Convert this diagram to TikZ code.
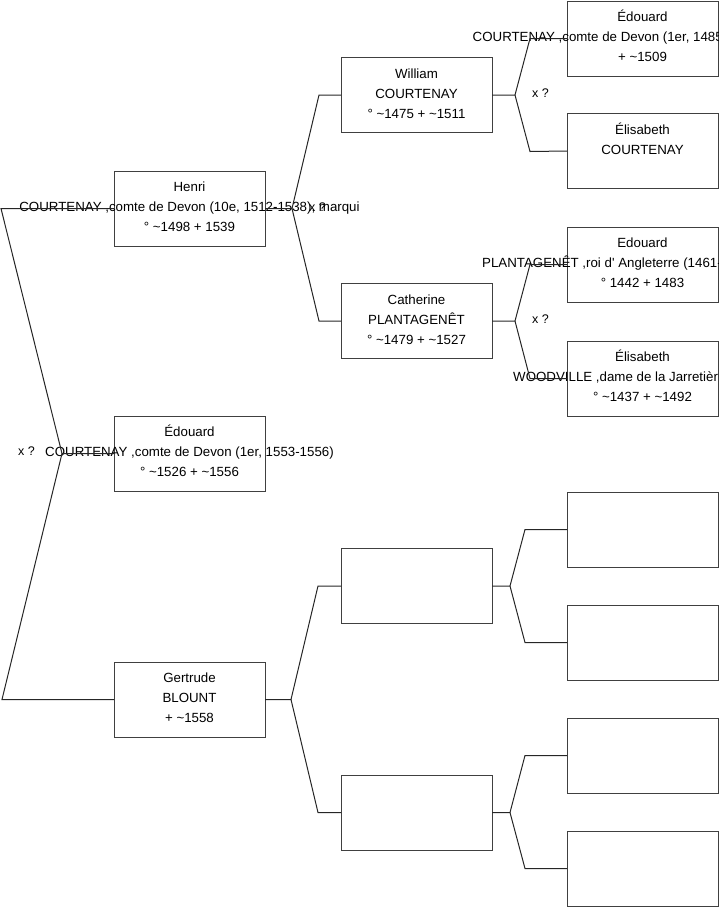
\documentclass[tikz,border=0pt]{standalone}
\usepackage{fontspec}
\setmainfont{Liberation Sans}
\usetikzlibrary{calc}
\begin{document}
\begin{tikzpicture}[x=1pt,y=-1pt,
  box/.style={draw=black!75, line width=1pt, rectangle, minimum width=151pt, minimum height=75pt, inner sep=0pt, outer sep=0pt},
  ln/.style={anchor=base, inner sep=0pt, font=\fontsize{13.3}{20}\selectfont},
  lnw/.style={anchor=base west, inner sep=0pt, font=\fontsize{13.3}{20}\selectfont},
  xq/.style={anchor=base west, inner sep=0pt, font=\fontsize{12.5}{15}\selectfont},
  conn/.style={line width=1pt, black!85}]
\useasboundingbox (0,0) rectangle (719,908);
\clip (0,0) rectangle (719,908);
% boxes
\node[box] (h)   at (189.5,208.5) {};
\node[box] (e1)  at (189.5,453.5) {};
\node[box] (g)   at (189.5,699.5) {};
\node[box] (w)   at (416.5,95) {};
\node[box] (c)   at (416.5,321) {};
\node[box] (m1)  at (416.5,586) {};
\node[box] (m2)  at (416.5,812.5) {};
\node[box] (ed)  at (642.5,38.5) {};
\node[box] (el)  at (642.5,151) {};
\node[box] (ed2) at (642.5,264.5) {};
\node[box] (el2) at (642.5,378.5) {};
\node[box] (n1)  at (642.5,529.5) {};
\node[box] (n2)  at (642.5,642.5) {};
\node[box] (n3)  at (642.5,755.5) {};
\node[box] (n4)  at (642.5,868.5) {};
% texts
\node[ln] (h1) at ($(h)+(0,-17)$) {Henri};
\node[ln] (h2) at ($(h)+(0,3)$) {COURTENAY ,comte de Devon (10e, 1512-1538), marqui};
\node[ln] (h3) at ($(h)+(0,23)$) {° \textasciitilde1498 + 1539};
\node[ln] (e11) at ($(e1)+(0,-17)$) {Édouard};
\node[ln] (e12) at ($(e1)+(0,3)$) {COURTENAY ,comte de Devon (1er, 1553-1556)};
\node[ln] (e13) at ($(e1)+(0,23)$) {° \textasciitilde1526 + \textasciitilde1556};
\node[ln] (g1) at ($(g)+(0,-17)$) {Gertrude};
\node[ln] (g2) at ($(g)+(0,3)$) {BLOUNT};
\node[ln] (g3) at ($(g)+(0,23)$) {+ \textasciitilde1558};
\node[ln] (w1) at ($(w)+(0,-17)$) {William};
\node[ln] (w2) at ($(w)+(0,3)$) {COURTENAY};
\node[ln] (w3) at ($(w)+(0,23)$) {° \textasciitilde1475 + \textasciitilde1511};
\node[ln] (c1) at ($(c)+(0,-17)$) {Catherine};
\node[ln] (c2) at ($(c)+(0,3)$) {PLANTAGENÊT};
\node[ln] (c3) at ($(c)+(0,23)$) {° \textasciitilde1479 + \textasciitilde1527};
\node[ln] (ed1) at ($(ed)+(0,-17)$) {Édouard};
\node[lnw] (edm) at (472.5,41.5) {COURTENAY ,comte de Devon (1er, 1485};
\node[ln] (ed3) at ($(ed)+(0,23)$) {+ \textasciitilde1509};
\node[ln] (el1) at ($(el)+(0,-17)$) {Élisabeth};
\node[ln] (elm) at ($(el)+(0,3)$) {COURTENAY};
\node[ln] (ed21) at ($(ed2)+(0,-17)$) {Edouard};
\node[lnw] (ed2m) at (482,267.5) {PLANTAGENÊT ,roi d\textquotesingle{} Angleterre (1461-};
\node[ln] (ed23) at ($(ed2)+(0,23)$) {° 1442 + 1483};
\node[ln] (el21) at ($(el2)+(0,-17)$) {Élisabeth};
\node[lnw] (el2m) at (513,381.5) {WOODVILLE ,dame de la Jarretièr};
\node[ln] (el23) at ($(el2)+(0,23)$) {° \textasciitilde1437 + \textasciitilde1492};
% fork points
\coordinate (f0) at (62,453.5);
\coordinate (f0a) at (1,208.5);
\coordinate (f0b) at (2,699.5);
\coordinate (f1) at (292,208.5);
\coordinate (f1a) at (319,95);
\coordinate (f1b) at (319,321);
\coordinate (f2) at (291,699.5);
\coordinate (f2a) at (318,586);
\coordinate (f2b) at (318,812.5);
\coordinate (f3) at (515,95);
\coordinate (f3a) at (530,38.5);
\coordinate (f3b) at (530,151.5);
\coordinate (f4) at (515,321);
\coordinate (f4a) at (530,264.5);
\coordinate (f4b) at (530,378.5);
\coordinate (f5) at (510,586);
\coordinate (f5a) at (525,529.5);
\coordinate (f5b) at (525,642.5);
\coordinate (f6) at (510,812.5);
\coordinate (f6a) at (525,755.5);
\coordinate (f6b) at (525,868.5);
% connectors
\draw[conn] (e1.west) -- (f0) -- (f0a) -- (h.west);
\draw[conn] (f0) -- (f0b) -- (g.west);
\draw[conn] (h.east) -- (f1) -- (f1a) -- (w.west);
\draw[conn] (f1) -- (f1b) -- (c.west);
\draw[conn] (g.east) -- (f2) -- (f2a) -- (m1.west);
\draw[conn] (f2) -- (f2b) -- (m2.west);
\draw[conn] (w.east) -- (f3) -- (f3a) -- (ed.west);
\draw[conn] (f3) -- (f3b) -- (el.west);
\draw[conn] (c.east) -- (f4) -- (f4a) -- (ed2.west);
\draw[conn] (f4) -- (f4b) -- (el2.west);
\draw[conn] (m1.east) -- (f5) -- (f5a) -- (n1.west);
\draw[conn] (f5) -- (f5b) -- (n2.west);
\draw[conn] (m2.east) -- (f6) -- (f6a) -- (n3.west);
\draw[conn] (f6) -- (f6b) -- (n4.west);
% marriage labels
\node[xq] (x0) at (18,455) {x ?};
\node[xq] (x1) at ($(f1)+(17,2.5)$) {x ?};
\node[xq] (x3) at ($(f3)+(17,2.5)$) {x ?};
\node[xq] (x4) at ($(f4)+(17,2.5)$) {x ?};
\end{tikzpicture}
\end{document}
